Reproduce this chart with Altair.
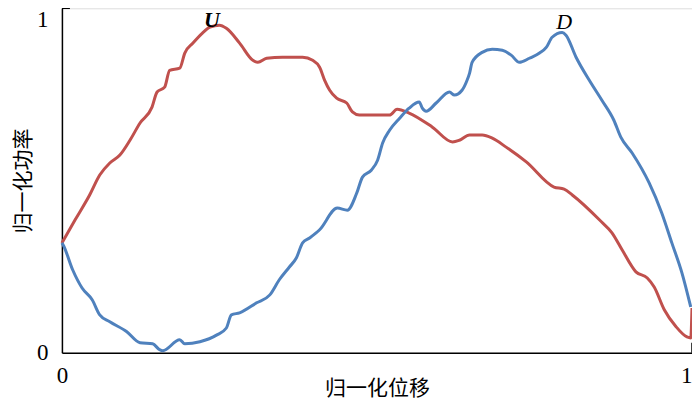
import altair as alt
import pandas as pd

# U curve (red)
u_x = [0.000, 0.021, 0.044, 0.060, 0.076, 0.092, 0.108, 0.124, 0.143, 0.151, 0.163, 0.171,
       0.187, 0.195, 0.208, 0.223, 0.235, 0.250, 0.261, 0.282, 0.303, 0.311, 0.325, 0.350,
       0.382, 0.398, 0.409, 0.417, 0.425, 0.436, 0.452, 0.461, 0.472, 0.520, 0.532, 0.551,
       0.588, 0.620, 0.631, 0.647, 0.667, 0.683, 0.705, 0.737, 0.781, 0.797, 0.810, 0.853,
       0.873, 0.889, 0.911, 0.929, 0.940, 0.956, 0.975, 0.992, 0.998, 1.000]
u_y = [0.319, 0.386, 0.458, 0.516, 0.551, 0.574, 0.617, 0.667, 0.713, 0.757, 0.771, 0.820,
       0.826, 0.870, 0.899, 0.928, 0.945, 0.951, 0.942, 0.899, 0.849, 0.843, 0.855, 0.858,
       0.858, 0.849, 0.829, 0.791, 0.762, 0.739, 0.725, 0.699, 0.690, 0.690, 0.707, 0.696,
       0.655, 0.612, 0.617, 0.632, 0.632, 0.623, 0.597, 0.554, 0.481, 0.475, 0.458, 0.386,
       0.348, 0.299, 0.235, 0.217, 0.191, 0.125, 0.075, 0.046, 0.043, 0.130]

# D curve (blue)
d_x = [0.000, 0.002, 0.017, 0.032, 0.048, 0.060, 0.076, 0.103, 0.124, 0.144, 0.155, 0.160,
       0.187, 0.195, 0.219, 0.246, 0.261, 0.269, 0.282, 0.309, 0.330, 0.345, 0.361, 0.372,
       0.382, 0.393, 0.409, 0.437, 0.453, 0.468, 0.477, 0.491, 0.501, 0.509, 0.520, 0.536,
       0.551, 0.567, 0.572, 0.578, 0.594, 0.615, 0.623, 0.635, 0.643, 0.647, 0.651, 0.667,
       0.683, 0.699, 0.713, 0.726, 0.742, 0.758, 0.769, 0.778, 0.794, 0.800, 0.816, 0.837,
       0.857, 0.876, 0.887, 0.905, 0.932, 0.952, 0.968, 0.984, 0.998]
d_y = [0.319, 0.313, 0.241, 0.188, 0.154, 0.110, 0.090, 0.061, 0.029, 0.026, 0.009, 0.006,
       0.038, 0.026, 0.032, 0.052, 0.072, 0.110, 0.116, 0.145, 0.168, 0.212, 0.249, 0.275,
       0.319, 0.333, 0.357, 0.420, 0.414, 0.464, 0.510, 0.530, 0.559, 0.609, 0.646, 0.681,
       0.710, 0.728, 0.710, 0.701, 0.725, 0.757, 0.748, 0.762, 0.791, 0.812, 0.843, 0.872,
       0.881, 0.878, 0.864, 0.843, 0.855, 0.870, 0.887, 0.916, 0.930, 0.922, 0.858, 0.791,
       0.733, 0.675, 0.626, 0.580, 0.493, 0.406, 0.319, 0.232, 0.133]

label_text = ["U", "D"]
label_x = [0.238, 0.797]
label_y = [0.965, 0.959]

x_ticks = [0, 1]
y_ticks = [0, 1]

u_df = pd.DataFrame({"x": u_x, "y": u_y, "order": range(len(u_x))})
d_df = pd.DataFrame({"x": d_x, "y": d_y, "order": range(len(d_x))})
lab_df = pd.DataFrame({"t": label_text, "x": label_x, "y": label_y})

W, H = 631, 345

xs = alt.Scale(domain=[0, 1], nice=False, zero=False)
ys = alt.Scale(domain=[0, 1], nice=False, zero=False)

x_axis = alt.Axis(values=x_ticks, format="d", title="归一化位移", grid=False, ticks=False,
                  labelPadding=12, labelFontSize=23, labelFont="Liberation Serif",
                  labelColor="black", domainColor="black", domainWidth=1.5,
                  labelAlign={"condition": {"test": "datum.value == 1", "value": "right"},
                              "value": "center"},
                  titleFont="Noto Sans CJK SC", titleFontSize=21, titleFontWeight="normal",
                  titleColor="black", titleY=36, titleBaseline="middle", labelFlush=False)
y_axis = alt.Axis(values=y_ticks, format="d", title="归一化功率", grid=False, ticks=False,
                  labelPadding=14, labelFontSize=23, labelFont="Liberation Serif",
                  labelColor="black", domainColor="black", domainWidth=1.5,
                  labelBaseline={"condition": {"test": "datum.value == 1", "value": "top"},
                                 "value": "middle"},
                  titleFont="Noto Sans CJK SC", titleFontSize=21, titleFontWeight="normal",
                  titleColor="black", titleX=-38, titleBaseline="middle", labelFlush=False)

u_line = alt.Chart(u_df).mark_line(color="#C0504D", strokeWidth=3, interpolate="monotone").encode(
    x=alt.X("x:Q", scale=xs, axis=x_axis),
    y=alt.Y("y:Q", scale=ys, axis=y_axis),
    order="order:Q",
)
d_line = alt.Chart(d_df).mark_line(color="#4F81BD", strokeWidth=3, interpolate="monotone").encode(
    x=alt.X("x:Q", scale=xs),
    y=alt.Y("y:Q", scale=ys),
    order="order:Q",
)

u_lab = alt.Chart(lab_df).transform_filter(alt.datum.t == "U").mark_text(
    font="Liberation Serif", fontSize=22, fontStyle="italic", fontWeight="bold", color="black"
).encode(x=alt.X("x:Q", scale=xs), y=alt.Y("y:Q", scale=ys), text="t:N")
d_lab = alt.Chart(lab_df).transform_filter(alt.datum.t == "D").mark_text(
    font="Liberation Serif", fontSize=22, fontStyle="italic", color="black"
).encode(x=alt.X("x:Q", scale=xs), y=alt.Y("y:Q", scale=ys), text="t:N")

tick_y = alt.Chart().mark_rule(color="black", strokeWidth=1.5).encode(
    y=alt.datum(1, scale=ys), x=alt.value(0), x2=alt.value(8)
)
tick_x = alt.Chart().mark_rule(color="black", strokeWidth=1.5).encode(
    x=alt.datum(1, scale=xs), y=alt.value(H), y2=alt.value(H - 10)
)

chart = alt.layer(u_line, d_line, u_lab, d_lab, tick_y, tick_x).properties(
    width=W, height=H,
    autosize=alt.AutoSizeParams(type="none"),
    padding={"left": 54, "top": 0, "right": 0, "bottom": 48},
).configure_view(stroke=None).configure(background="white")

chart.save("out.html", embed_options={"renderer": "svg", "actions": False})
